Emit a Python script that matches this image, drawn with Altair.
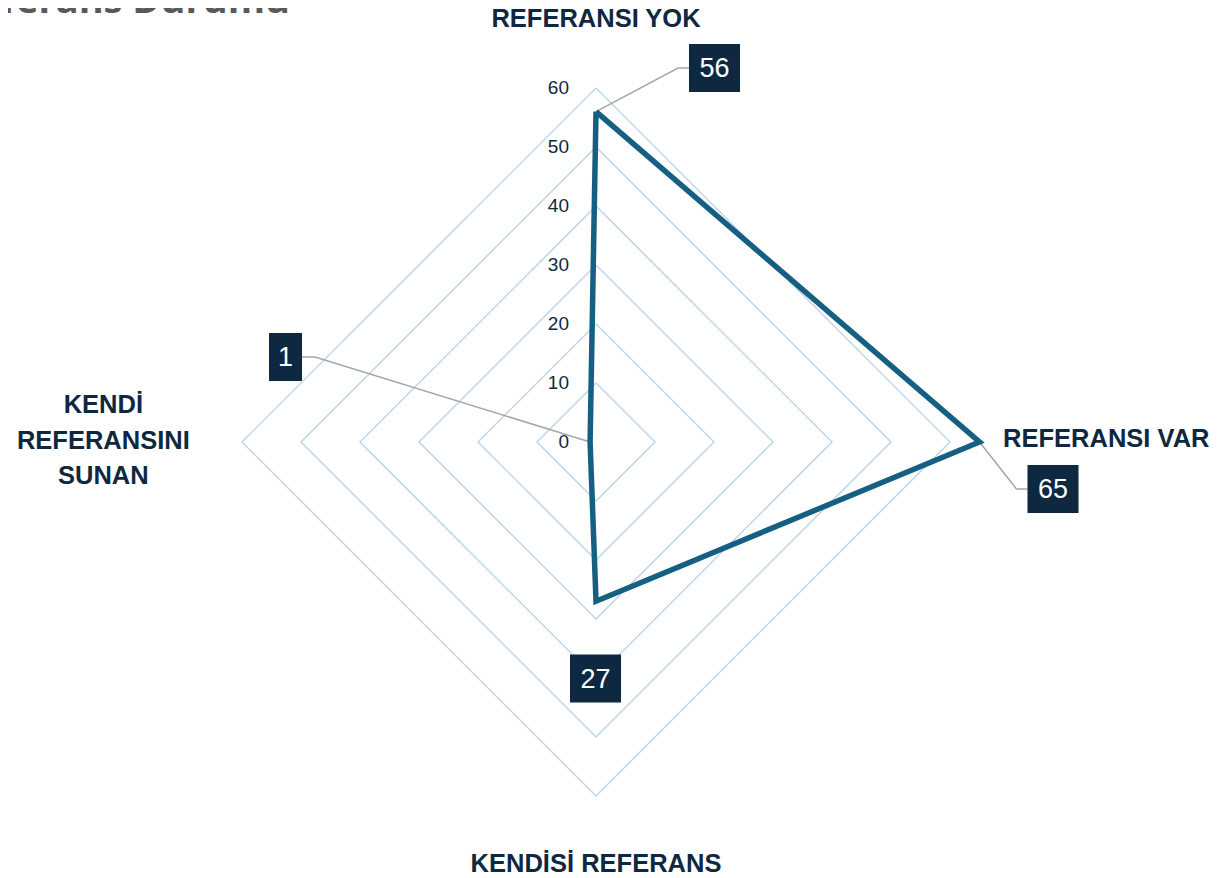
import math
import altair as alt
import pandas as pd

# ---------------- data ----------------
categories = ["REFERANSI YOK", "REFERANSI VAR", "KENDİSİ REFERANS", "KENDİ\nREFERANSINI\nSUNAN"]
values = [56, 65, 27, 1]
value_labels = ["56", "65", "27", "1"]
grid_levels = [10, 20, 30, 40, 50, 60]
tick_values = [0, 10, 20, 30, 40, 50, 60]
tick_labels = ["0", "10", "20", "30", "40", "50", "60"]
title_text = "Referans Durumu"

# ---------------- layout (pixels / styling) ----------------
W, H = 1210, 870
CX, CY = 588, 434          # radar centre inside the plot area, px
PPU = 5.9                  # pixels per value unit
angles = [90, 0, -90, 180]  # top, right, bottom, left
# label box centre offsets from the data point (px)
box_off = [(118.5, -43.6), (73.5, 47.0), (-0.5, 77.2), (-304.6, -85.0)]
leader_side = ["left", "left", None, "right"]
cat_radius = [71.65, 69.0, 71.5, 83.5]

NAVY = "#0E2841"
SERIES = "#156082"
GRID = "#BDD6EE"
LEADER = "#A6A6A6"

xdom = [-CX / PPU, (W - CX) / PPU]
ydom = [-(H - CY) / PPU, CY / PPU]
xs = alt.Scale(domain=xdom, nice=False, zero=False)
ys = alt.Scale(domain=ydom, nice=False, zero=False)


def polar(v, a):
    r = math.radians(a)
    return v * math.cos(r), v * math.sin(r)


# grid diamonds
grid_rows = []
for lv in grid_levels:
    for k in range(5):
        a = angles[k % 4]
        x, y = polar(lv, a)
        grid_rows.append({"level": lv, "ord": k, "x": x, "y": y})
grid_df = pd.DataFrame(grid_rows)

# series polygon
ser_rows = []
for k in range(5):
    i = k % 4
    x, y = polar(values[i], angles[i])
    ser_rows.append({"ord": k, "x": x, "y": y})
ser_df = pd.DataFrame(ser_rows)

# ticks
tick_df = pd.DataFrame({"x": [0.0] * len(tick_values), "y": tick_values, "t": tick_labels})

# data label boxes + leader lines
box_rows, lead_rows = [], []
for i, (v, lab) in enumerate(zip(values, value_labels)):
    px, py = polar(v, angles[i])
    ox, oy = box_off[i]
    bw = 18 * len(lab) + 15
    bh = 48
    cx = px + ox / PPU
    cy = py - oy / PPU
    box_rows.append({"x": cx - bw / 2 / PPU, "x2": cx + bw / 2 / PPU,
                     "y": cy - bh / 2 / PPU, "y2": cy + bh / 2 / PPU,
                     "cx": cx, "cy": cy, "t": lab})
    side = leader_side[i]
    if side:
        edge = cx - bw / 2 / PPU if side == "left" else cx + bw / 2 / PPU
        elbow = edge - 11 / PPU if side == "left" else edge + 13 / PPU
        for k, (lx, ly) in enumerate([(px, py), (elbow, cy), (edge, cy)]):
            lead_rows.append({"id": i, "ord": k, "x": lx, "y": ly})
box_df = pd.DataFrame(box_rows)
lead_df = pd.DataFrame(lead_rows)

# category labels
cat_rows = []
for i, c in enumerate(categories):
    x, y = polar(cat_radius[i], angles[i])
    cat_rows.append({"x": x, "y": y, "t": c, "i": i})
cat_df = pd.DataFrame(cat_rows)

title_df = pd.DataFrame({"x": [(290 - 8 - CX) / PPU], "y": [(CY - 5) / PPU], "t": [title_text]})

X = lambda f="x": alt.X(f"{f}:Q", scale=xs, axis=None)
Y = lambda f="y": alt.Y(f"{f}:Q", scale=ys, axis=None)

grid = alt.Chart(grid_df).mark_line(color=GRID, strokeWidth=1.5).encode(
    x=X(), y=Y(), detail="level:N", order="ord:Q")

ticks = alt.Chart(tick_df).mark_text(align="right", baseline="middle", dx=-27,
                                     font="Liberation Sans", fontSize=19, color=NAVY).encode(
    x=X(), y=Y(), text="t:N")

leaders = alt.Chart(lead_df).mark_line(color=LEADER, strokeWidth=1.5).encode(
    x=X(), y=Y(), detail="id:N", order="ord:Q")

series = alt.Chart(ser_df).mark_line(color=SERIES, strokeWidth=5.5, strokeJoin="miter").encode(
    x=X(), y=Y(), order="ord:Q")

boxes = alt.Chart(box_df).mark_rect(color=NAVY).encode(
    x=X("x"), x2="x2:Q", y=Y("y"), y2="y2:Q")

box_text = alt.Chart(box_df).mark_text(align="center", baseline="middle", dy=1,
                                       font="Liberation Sans", fontSize=27, color="white").encode(
    x=X("cx"), y=Y("cy"), text="t:N")

cat_center = alt.Chart(cat_df[cat_df["i"].isin([0, 2])]).mark_text(
    align="center", baseline="middle",
    font="Liberation Sans", fontWeight="bold", fontSize=25.5, color=NAVY).encode(
    x=X(), y=Y(), text="t:N")

cat_left = alt.Chart(cat_df[cat_df["i"] == 3]).mark_text(
    align="center", baseline="middle", lineBreak="\n", lineHeight=35.5, dy=-37,
    font="Liberation Sans", fontWeight="bold", fontSize=25.5, color=NAVY).encode(
    x=X(), y=Y(), text="t:N")

cat_right = alt.Chart(cat_df[cat_df["i"] == 1]).mark_text(
    align="left", baseline="middle", dy=-3,
    font="Liberation Sans", fontWeight="bold", fontSize=25.5, color=NAVY).encode(
    x=X(), y=Y(), text="t:N")

title = alt.Chart(title_df).mark_text(
    align="right", baseline="alphabetic", font="Open Sans", fontWeight="bold",
    fontSize=38, color="#595959").encode(x=X(), y=Y(), text="t:N")

chart = alt.layer(grid, ticks, leaders, series, boxes, box_text,
                  cat_center, cat_left, cat_right, title).properties(
    width=W, height=H, padding=0,
    autosize=alt.AutoSizeParams(type="none"),
).configure_view(stroke=None)

chart.save("out.html", embed_options={"renderer": "svg", "actions": False})
